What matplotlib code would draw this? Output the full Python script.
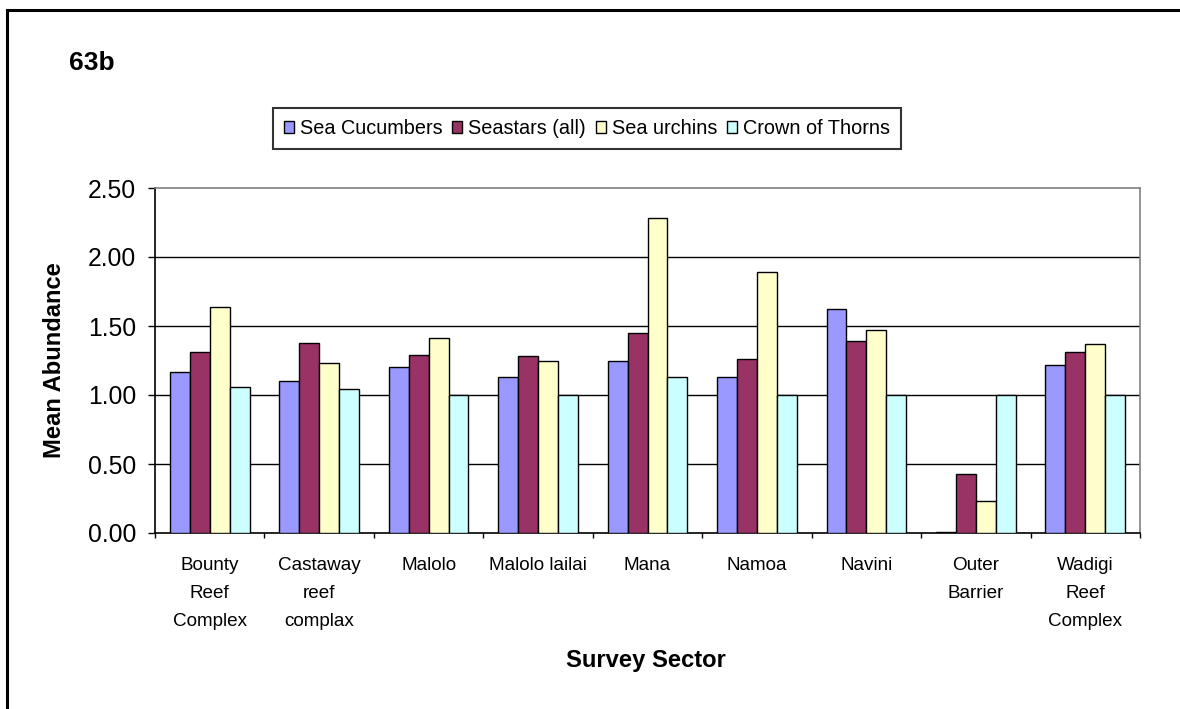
import numpy as np
import matplotlib
matplotlib.use("Agg")
import matplotlib.pyplot as plt
from matplotlib.lines import Line2D
from matplotlib.patches import Patch

plt.rcParams["font.family"] = ["Liberation Sans", "DejaVu Sans"]

# 数据
sectors = ["Bounty\nReef\nComplex", "Castaway\nreef\ncomplax", "Malolo", "Malolo lailai",
           "Mana", "Namoa", "Navini", "Outer\nBarrier", "Wadigi\nReef\nComplex"]
series_names = ["Sea Cucumbers", "Seastars (all)", "Sea urchins", "Crown of Thorns"]
sea_cucumbers = [1.17, 1.10, 1.20, 1.13, 1.25, 1.13, 1.62, 0.01, 1.22]
seastars = [1.31, 1.38, 1.29, 1.28, 1.45, 1.26, 1.39, 0.43, 1.31]
sea_urchins = [1.64, 1.23, 1.41, 1.25, 2.28, 1.89, 1.47, 0.23, 1.37]
crown_of_thorns = [1.06, 1.04, 1.00, 1.00, 1.13, 1.00, 1.00, 1.00, 1.00]
yticks = [0.0, 0.5, 1.0, 1.5, 2.0, 2.5]

colors = ["#9999FF", "#993366", "#FFFFCC", "#CCFFFF"]
all_series = [sea_cucumbers, seastars, sea_urchins, crown_of_thorns]

W, H = 1180, 709
fig = plt.figure(figsize=(W / 100, H / 100), dpi=100)
ax = fig.add_axes([155 / W, 1 - 533 / H, (1140 - 155) / W, (533 - 188) / H])

x = np.arange(len(sectors))
bw = 1 / 5.5
for i, vals in enumerate(all_series):
    ax.bar(x + (i - 1.5) * bw, vals, bw, color=colors[i], edgecolor="black",
           linewidth=1.0, zorder=3)

# 网格线
for t in yticks[1:-1]:
    ax.axhline(t, color="black", linewidth=1.0, zorder=1)

ax.set_xlim(-0.5, len(sectors) - 0.5)
ax.set_ylim(0, 2.5)
ax.set_yticks(yticks)
ax.set_yticklabels([f"{t:.2f}" for t in yticks], fontsize=17.8)
ax.tick_params(axis="y", direction="out", length=5, width=1, pad=8.6)

ax.set_xticks(x)
ax.set_xticklabels(sectors, fontsize=13.6, linespacing=1.86, va="top")
ax.tick_params(axis="x", which="major", length=0, pad=17)
ax.set_xticks(np.arange(-0.5, len(sectors)), minor=True)
ax.tick_params(axis="x", which="minor", direction="out", length=3.6, width=1)

for s in ["top", "right"]:
    ax.spines[s].set_color("#808080")
    ax.spines[s].set_linewidth(1.2)
for s in ["left", "bottom"]:
    ax.spines[s].set_color("black")
    ax.spines[s].set_linewidth(1.2)

fig.text(55 / W, 1 - 360 / H, "Mean Abundance", fontsize=17.1, fontweight="bold",
         rotation=90, ha="center", va="center")
fig.text(646 / W, 1 - 661 / H, "Survey Sector", fontsize=17.1, fontweight="bold",
         ha="center", va="center")

fig.text(69 / W, 1 - 63 / H, "63b", fontsize=19, fontweight="bold", ha="left", va="center")

handles = [Patch(facecolor=c, edgecolor="black", linewidth=1.0) for c in colors]
leg = fig.legend(handles, series_names, loc="center", bbox_to_anchor=(587 / W, 1 - 128.5 / H),
                 ncol=4, fontsize=14.3, frameon=True, fancybox=False, edgecolor="black",
                 handlelength=0.5, handleheight=0.5, handletextpad=0.3, columnspacing=0.5,
                 borderpad=0.55, borderaxespad=0)
leg.get_frame().set_linewidth(1.5)

# 外框
fig.add_artist(Line2D([6.5 / W, 6.5 / W], [0, 1 - 9.5 / H], transform=fig.transFigure,
                      color="black", linewidth=2.2))
fig.add_artist(Line2D([6.5 / W, 1], [1 - 9.5 / H, 1 - 9.5 / H], transform=fig.transFigure,
                      color="black", linewidth=2.2))

fig.savefig("out.png", dpi=100)
